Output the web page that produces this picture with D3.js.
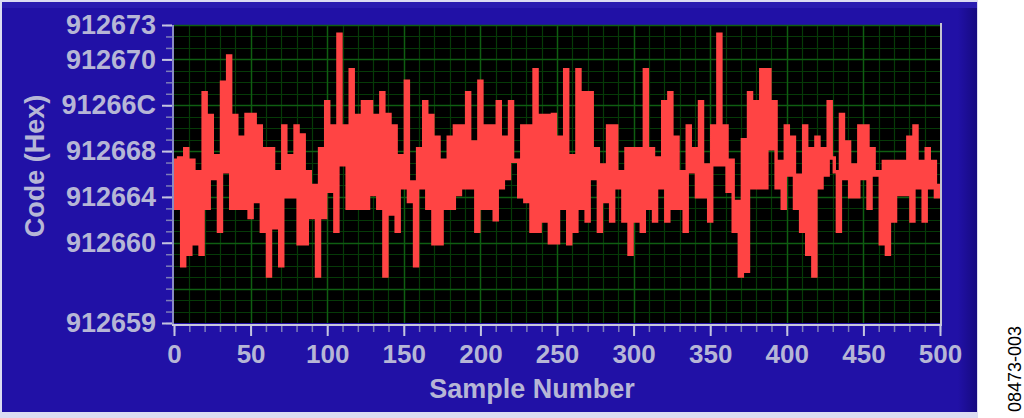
<!DOCTYPE html>
<html><head><meta charset="utf-8">
<script src="https://cdn.jsdelivr.net/npm/d3@7"></script>
<style>body{margin:0;background:#fff;overflow:hidden}</style>
</head><body><svg id="c" width="1024" height="418"></svg>
<script>
// Codes are stored as offsets from codeBase (hex 0x912600), one per 2 samples
const codeBase = 0x912600;
const sampleStep = 2;
const codeOffsets = [
103.2, 99, 103.4, 94, 104.2, 95, 103.2, 95.9, 102.2, 95,
109.1, 99, 107.1, 101.6, 103.6, 97, 110, 102.2, 112.3, 99,
107.1, 99, 105.2, 99, 107.2, 98.2, 107.2, 99.6, 106.2, 97,
104.2, 93.1, 104.2, 97.3, 102.2, 94, 106.2, 100, 103.6, 100,
106.2, 95.9, 105.4, 95.9, 102.2, 98.2, 101, 93.1, 104.2, 98.2,
108.3, 100.5, 106.2, 97, 114.2, 102.8, 106.2, 99, 111.1, 99,
107.1, 99, 108.3, 99, 108.3, 100.2, 107.1, 99, 109.1, 93.1,
107.2, 98.5, 106.2, 97, 103.6, 100.8, 110.1, 99.6, 101.3, 94,
104.2, 100.8, 108.3, 99, 107.1, 95.9, 105.2, 95.9, 103.2, 99,
105.2, 99, 106.2, 100.2, 106.2, 100.8, 109.1, 100.8, 104.8, 97,
110.1, 99, 106.2, 99, 106.2, 98, 108.3, 100.8, 105.2, 101.6,
108.3, 103.1, 103.2, 100, 106.2, 99.6, 106.2, 97, 111.1, 97,
107.1, 97.9, 107.1, 96, 107.2, 96, 105.2, 99, 111.1, 95.9,
103.6, 97, 111.1, 99, 109.1, 97.9, 109.1, 101.6, 104.2, 97,
102.8, 99.6, 106.2, 97.9, 106.2, 100.8, 102.2, 97.9, 104.2, 95,
104.2, 97.9, 104.2, 97, 111.1, 99, 104.2, 97.9, 103.4, 100.8,
108.3, 97.9, 109.1, 99, 105.2, 99, 102.2, 97, 106.2, 102.2,
104.2, 100, 108.3, 100, 102.8, 97.9, 106.2, 102.8, 114.2, 102.8,
106.2, 100.5, 103.2, 97, 99.6, 93.1, 105, 93.5, 109.1, 100.8,
108.3, 100.8, 111.1, 100.8, 111.1, 104.2, 108.3, 100.8, 103.1, 99,
106.2, 101.9, 105.2, 99, 101.9, 97, 106.2, 95, 104.2, 93.1,
105.2, 100.8, 104.2, 101.9, 108.3, 103.4, 102.2, 97, 107.2, 101.6,
104.8, 100, 102.8, 100, 106.2, 101.6, 106.2, 99, 104.2, 101.9,
102.2, 95.9, 103.1, 95, 103.1, 97.9, 103.1, 100.2, 103.1, 100.2,
105.2, 97.9, 106.2, 100.8, 103.1, 97.9, 104.2, 100.8, 103.1, 100,
101
];
const yDomain = [0x59, 0x73];
const yLabelTicks = [0x73, 0x70, 0x6C, 0x68, 0x64, 0x60, 0x59];
const yMajorGrid = [0x73, 0x70, 0x6C, 0x68, 0x64, 0x60, 0x5C];
const xDomain = [0, 500];
const xMajorTicks = [0, 50, 100, 150, 200, 250, 300, 350, 400, 450, 500];
const xTitle = "Sample Number";
const yTitle = "Code (Hex)";
const figureId = "08473-003";

const svg = d3.select("#c");
const L = 174, R = 940, T = 25, B = 323;
const x = d3.scaleLinear().domain(xDomain).range([L, R]);
const y = d3.scaleLinear().domain(yDomain).range([B, T]);
const txt = "#b6b6d6";
const font = "'Liberation Sans', Arial, sans-serif";

// panel
const defs = svg.append("defs");
const g1 = defs.append("linearGradient").attr("id", "edge").attr("x1", 0).attr("x2", 1);
g1.append("stop").attr("offset", 0).attr("stop-color", "#2111a6");
g1.append("stop").attr("offset", 1).attr("stop-color", "#160a80");
svg.append("rect").attr("x", 0).attr("y", 0).attr("width", 978).attr("height", 418).attr("fill", "#dcdcf2");
svg.append("rect").attr("x", 2).attr("y", 2).attr("width", 975).attr("height", 410).attr("fill", "#2111a6");
svg.append("rect").attr("x", 958).attr("y", 2).attr("width", 19).attr("height", 410).attr("fill", "url(#edge)");
svg.append("rect").attr("x", 2).attr("y", 2).attr("width", 975).attr("height", 6).attr("fill", "#2a1cb0");

// plot background
svg.append("rect").attr("x", L).attr("y", T).attr("width", R - L).attr("height", B - T).attr("fill", "#000");

// grid
const grid = svg.append("g");
grid.selectAll(".hmin").data(d3.range(yDomain[0] + 1, yDomain[1])).join("line")
  .attr("x1", L).attr("x2", R).attr("y1", d => Math.round(y(d)) + 0.5).attr("y2", d => Math.round(y(d)) + 0.5)
  .attr("stroke", "#063a08").attr("stroke-width", 1.2);
grid.selectAll(".vmin").data(d3.range(10, 500, 10)).join("line")
  .attr("y1", T).attr("y2", B).attr("x1", d => Math.round(x(d)) + 0.5).attr("x2", d => Math.round(x(d)) + 0.5)
  .attr("stroke", "#063a08").attr("stroke-width", 1.2);
grid.selectAll(".hmaj").data(yMajorGrid).join("line")
  .attr("x1", L).attr("x2", R).attr("y1", d => Math.round(y(d)) + 0.5).attr("y2", d => Math.round(y(d)) + 0.5)
  .attr("stroke", "#0f5e12").attr("stroke-width", 1.4);
grid.selectAll(".vmaj").data(xMajorTicks.slice(1, -1)).join("line")
  .attr("y1", T).attr("y2", B).attr("x1", d => Math.round(x(d)) + 0.5).attr("x2", d => Math.round(x(d)) + 0.5)
  .attr("stroke", "#0f5e12").attr("stroke-width", 1.4);

// trace
svg.append("clipPath").attr("id", "clip").append("rect").attr("x", L).attr("y", T).attr("width", R - L).attr("height", B - T);
const line = d3.line().curve(d3.curveStep).x((d, i) => x(i * sampleStep)).y(d => y(d));
svg.append("path").datum(codeOffsets).attr("clip-path", "url(#clip)")
  .attr("d", line).attr("fill", "none").attr("stroke", "#ff4444")
  .attr("stroke-width", 3.4).attr("stroke-linejoin", "miter");

// frame
svg.append("line").attr("x1", L - 1).attr("x2", L - 1).attr("y1", T).attr("y2", B + 2).attr("stroke", "#8a8ac4").attr("stroke-width", 2);
svg.append("line").attr("x1", R + 1).attr("x2", R + 1).attr("y1", T - 2).attr("y2", B + 2).attr("stroke", "#c4c4d0").attr("stroke-width", 2);
svg.append("line").attr("x1", L - 2).attr("x2", R + 2).attr("y1", B + 2).attr("y2", B + 2).attr("stroke", "#c8c8dc").attr("stroke-width", 2);

// y axis
const yMinor = svg.append("g").attr("transform", `translate(${L - 2},0)`)
  .call(d3.axisLeft(y).tickValues(d3.range(yDomain[0], yDomain[1] + 1)).tickSize(6).tickFormat(""));
yMinor.select(".domain").remove();
yMinor.selectAll("line").attr("stroke", "#7e7eb8").attr("stroke-width", 1.5);
const yMajor = svg.append("g").attr("transform", `translate(${L - 2},0)`)
  .call(d3.axisLeft(y).tickValues(yLabelTicks).tickSize(10).tickPadding(6)
    .tickFormat(d => (codeBase + d).toString(16).toUpperCase()));
yMajor.select(".domain").remove();
yMajor.selectAll("line").attr("stroke", "#c4c4e0").attr("stroke-width", 2);
yMajor.selectAll("text").attr("fill", txt).attr("font-family", font).attr("font-weight", "bold").attr("font-size", 27);

// x axis
const xMinor = svg.append("g").attr("transform", `translate(0,${B + 3})`)
  .call(d3.axisBottom(x).tickValues(d3.range(0, 501, 10)).tickSize(6).tickFormat(""));
xMinor.select(".domain").remove();
xMinor.selectAll("line").attr("stroke", "#7e7eb8").attr("stroke-width", 1.5);
const xMajor = svg.append("g").attr("transform", `translate(0,${B + 3})`)
  .call(d3.axisBottom(x).tickValues(xMajorTicks).tickSize(10).tickPadding(9));
xMajor.select(".domain").remove();
xMajor.selectAll("line").attr("stroke", "#c4c4e0").attr("stroke-width", 2);
xMajor.selectAll("text").attr("fill", txt).attr("font-family", font).attr("font-weight", "bold").attr("font-size", 26);

// titles
svg.append("text").attr("x", 532).attr("y", 398).attr("text-anchor", "middle")
  .attr("fill", txt).attr("font-family", font).attr("font-weight", "bold").attr("font-size", 27).text(xTitle);
svg.append("text").attr("transform", "translate(44,166) rotate(-90)").attr("text-anchor", "middle")
  .attr("fill", txt).attr("font-family", font).attr("font-weight", "bold").attr("font-size", 27).text(yTitle);
svg.append("text").attr("transform", "translate(1021,369) rotate(-90)").attr("text-anchor", "middle")
  .attr("fill", "#000").attr("font-family", font).attr("font-size", 18).text(figureId);
</script>
</body></html>
